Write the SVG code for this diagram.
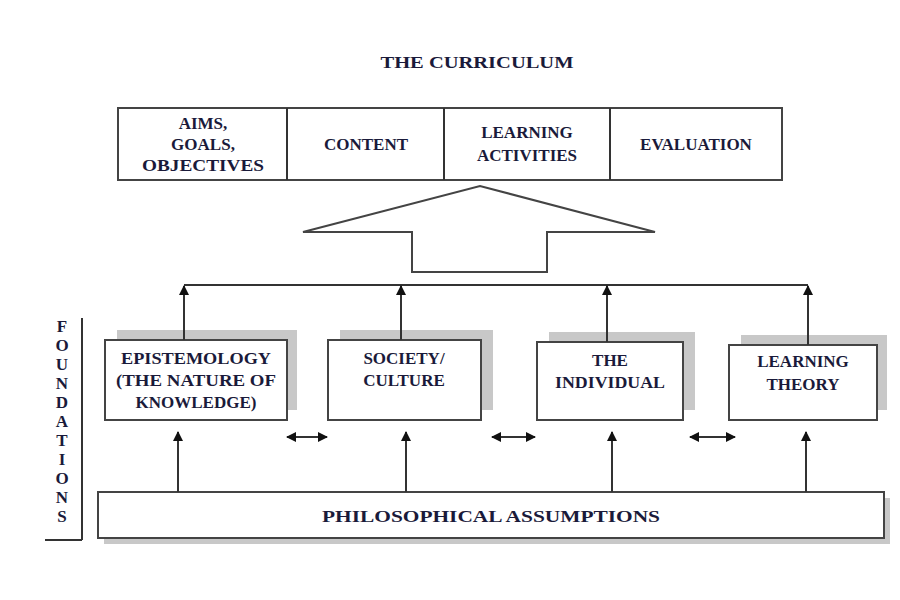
<svg xmlns="http://www.w3.org/2000/svg" width="900" height="600" viewBox="0 0 900 600">
<style>
.t{font-family:"Liberation Serif",serif;font-weight:bold;font-size:17px;fill:#1a1a3a;text-anchor:middle}
.b{fill:#fff;stroke:#444;stroke-width:2}
.s{fill:#c8c8c8}
.l{stroke:#333;stroke-width:2;fill:none}
</style>
<defs>
<marker id="a" viewBox="0 0 10 10" refX="9" refY="5" markerWidth="5" markerHeight="5" orient="auto-start-reverse"><path d="M0,0L10,5L0,10z" fill="#111"/></marker>
</defs>
<rect width="900" height="600" fill="#fff"/>
<text class="t" x="477" y="68" font-size="20" textLength="193" lengthAdjust="spacingAndGlyphs">THE CURRICULUM</text>
<g id="curriculum">
<rect class="b" x="118" y="108" width="664" height="72"/>
<line class="l" x1="287" y1="108" x2="287" y2="180"/>
<line class="l" x1="444" y1="108" x2="444" y2="180"/>
<line class="l" x1="610" y1="108" x2="610" y2="180"/>
<text class="t" x="203" y="129">AIMS,</text><text class="t" x="203" y="150">GOALS,</text><text class="t" x="203" y="171" textLength="122" lengthAdjust="spacingAndGlyphs">OBJECTIVES</text>
<text class="t" x="366" y="150">CONTENT</text>
<text class="t" x="527" y="138">LEARNING</text><text class="t" x="527" y="161">ACTIVITIES</text>
<text class="t" x="696" y="150">EVALUATION</text>
</g>
<g id="bigarrow"><polygon class="b" points="303,232 480,186 655,232 547,232 547,272 412,272 412,232"/></g>
<g id="foundations-label">
<line class="l" x1="82" y1="318" x2="82" y2="540" stroke-width="1.5"/>
<line class="l" x1="45" y1="540" x2="82" y2="540" stroke-width="1.5"/>
<text class="t" font-size="13" x="62"><tspan x="62" y="332">F</tspan><tspan x="62" y="351">O</tspan><tspan x="62" y="370">U</tspan><tspan x="62" y="389">N</tspan><tspan x="62" y="408">D</tspan><tspan x="62" y="427">A</tspan><tspan x="62" y="446">T</tspan><tspan x="62" y="465">I</tspan><tspan x="62" y="484">O</tspan><tspan x="62" y="503">N</tspan><tspan x="62" y="522">S</tspan></text>
</g>
<g id="epistemology"><rect class="s" x="117" y="330" width="180" height="80"/><rect class="b" x="105" y="340" width="182" height="80"/>
<text class="t" x="196" y="364" textLength="150" lengthAdjust="spacingAndGlyphs">EPISTEMOLOGY</text><text class="t" x="196" y="386" textLength="160" lengthAdjust="spacingAndGlyphs">(THE NATURE OF</text><text class="t" x="196" y="408">KNOWLEDGE)</text></g>
<g id="society"><rect class="s" x="340" y="330" width="153" height="80"/><rect class="b" x="328" y="340" width="153" height="80"/>
<text class="t" x="404" y="364">SOCIETY/</text><text class="t" x="404" y="386">CULTURE</text></g>
<g id="individual"><rect class="s" x="549" y="332" width="146" height="78"/><rect class="b" x="537" y="342" width="146" height="78"/>
<text class="t" x="610" y="366">THE</text><text class="t" x="610" y="388" textLength="110" lengthAdjust="spacingAndGlyphs">INDIVIDUAL</text></g>
<g id="learningtheory"><rect class="s" x="741" y="335" width="146" height="75"/><rect class="b" x="729" y="345" width="148" height="75"/>
<text class="t" x="803" y="367">LEARNING</text><text class="t" x="803" y="390">THEORY</text></g>
<g id="philosophical"><rect class="s" x="104" y="498" width="786" height="46"/><rect class="b" x="98" y="492" width="786" height="46"/>
<text class="t" x="491" y="522" font-size="19" textLength="338" lengthAdjust="spacingAndGlyphs">PHILOSOPHICAL ASSUMPTIONS</text></g>
<g id="connectors">
<line class="l" x1="184" y1="285" x2="808" y2="285"/>
<line class="l" x1="184" y1="340" x2="184" y2="286" marker-end="url(#a)"/>
<line class="l" x1="401" y1="340" x2="401" y2="286" marker-end="url(#a)"/>
<line class="l" x1="607" y1="342" x2="607" y2="286" marker-end="url(#a)"/>
<line class="l" x1="808" y1="345" x2="808" y2="286" marker-end="url(#a)"/>
<line class="l" x1="178" y1="492" x2="178" y2="432" marker-end="url(#a)"/>
<line class="l" x1="406" y1="492" x2="406" y2="432" marker-end="url(#a)"/>
<line class="l" x1="612" y1="492" x2="612" y2="432" marker-end="url(#a)"/>
<line class="l" x1="806" y1="492" x2="806" y2="432" marker-end="url(#a)"/>
<line class="l" x1="287" y1="437" x2="327" y2="437" marker-start="url(#a)" marker-end="url(#a)"/>
<line class="l" x1="492" y1="437" x2="535" y2="437" marker-start="url(#a)" marker-end="url(#a)"/>
<line class="l" x1="690" y1="437" x2="735" y2="437" marker-start="url(#a)" marker-end="url(#a)"/>
</g>
</svg>
